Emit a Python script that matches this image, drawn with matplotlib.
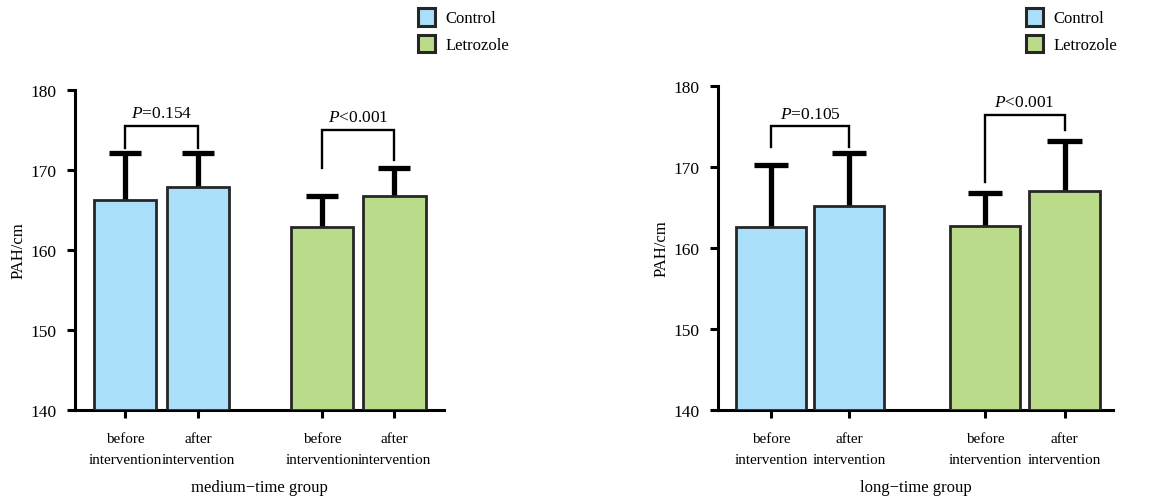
import matplotlib
matplotlib.use("Agg")
import matplotlib.pyplot as plt
from matplotlib.patches import Patch
import numpy as np

plt.rcParams["font.family"] = ["Liberation Serif", "DejaVu Serif"]
plt.rcParams["mathtext.fontset"] = "custom"
plt.rcParams["mathtext.rm"] = "Liberation Serif"
plt.rcParams["mathtext.it"] = "Liberation Serif:italic"

# datos
tick_labels = ["before\nintervention", "after\nintervention",
               "before\nintervention", "after\nintervention"]
grupos = ["Control", "Letrozole"]

medium_mean = [166.2, 167.9, 162.9, 166.8]
medium_sd = [5.9, 4.2, 3.8, 3.5]
medium_p = ["=0.154", "<0.001"]
# (tope, pata izq, pata der)
medium_brackets = [(175.5, 172.8, 172.8), (175.0, 170.2, 171.2)]

long_mean = [162.6, 165.2, 162.7, 167.0]
long_sd = [7.7, 6.5, 4.1, 6.2]
long_p = ["=0.105", "<0.001"]
long_brackets = [(175.0, 172.5, 172.5), (176.4, 168.2, 174.6)]

azul = "#a9dff8"
verde = "#badb8a"
borde = "#262626"
colores = [azul, azul, verde, verde]


def panel(ax, pos, medias, sd, brackets, pvals, xlabel, width, xlim, cap):
    pos = np.array(pos)
    medias = np.array(medias)
    sd = np.array(sd)
    ax.bar(pos, medias - 140, bottom=140, width=width, color=colores,
           edgecolor=borde, linewidth=2.0, zorder=3)
    tops = medias + sd
    ax.vlines(pos, medias, tops, color="black", linewidth=3.8, zorder=2)
    ax.hlines(tops, pos - cap, pos + cap, color="black", linewidth=3.8, zorder=2)

    for i, (b, p) in enumerate(zip(brackets, pvals)):
        x1, x2 = pos[2 * i], pos[2 * i + 1]
        top, l, r = b
        ax.plot([x1, x1, x2, x2], [l, top, top, r], color="black",
                linewidth=1.7, solid_joinstyle="miter", zorder=4, clip_on=False)
        ax.text((x1 + x2) / 2, top + 0.6, "$P$" + p, ha="center", va="bottom",
                fontsize=12.5)

    ax.set_ylim(140, 180)
    ax.set_xlim(*xlim)
    ax.set_yticks([140, 150, 160, 170, 180])
    ax.set_xticks(pos)
    ax.set_xticklabels(tick_labels, linespacing=1.78)
    for s in ["top", "right"]:
        ax.spines[s].set_visible(False)
    for s in ["left", "bottom"]:
        ax.spines[s].set_linewidth(2.2)
    ax.tick_params(axis="both", width=2.2, length=6)
    ax.tick_params(axis="y", pad=7, labelsize=12.5)
    ax.tick_params(axis="x", pad=10, labelsize=10.9)
    ax.set_xlabel(xlabel, fontsize=12, labelpad=9)
    ax.set_ylabel("PAH/cm", fontsize=12, labelpad=3)


fig = plt.figure(figsize=(11.71, 5.02), dpi=100)
ax1 = fig.add_axes([75 / 1171, 91 / 502, 369 / 1171, 320 / 502])
ax2 = fig.add_axes([718 / 1171, 91 / 502, 395 / 1171, 324 / 502])

panel(ax1, [0, 1, 2.7, 3.69], medium_mean, medium_sd, medium_brackets,
      medium_p, "medium\u2212time group", 0.86, (-0.685, 4.37), 0.22)
panel(ax2, [0, 1, 2.74, 3.76], long_mean, long_sd, long_brackets,
      long_p, "long\u2212time group", 0.9, (-0.68, 4.38), 0.22)

handles = [Patch(facecolor=azul, edgecolor=borde, linewidth=2.2),
           Patch(facecolor=verde, edgecolor=borde, linewidth=2.2)]
for x in [418 / 1171, 1026 / 1171]:
    fig.legend(handles, grupos, loc="upper left", bbox_to_anchor=(x, 0.982),
               frameon=False, fontsize=12, handlelength=1.0, handleheight=1.25,
               handletextpad=0.65, labelspacing=0.5, borderpad=0, borderaxespad=0)

plt.savefig("out.png", dpi=100)
